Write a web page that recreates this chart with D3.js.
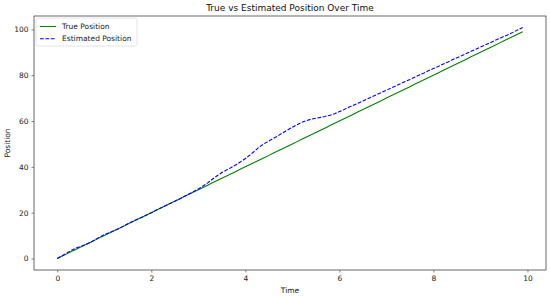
<!DOCTYPE html>
<html>
<head>
<meta charset="utf-8">
<script src="https://cdn.jsdelivr.net/npm/d3@7"></script>
<style>
  body { margin: 0; background: #fff; }
  svg { display: block; font-family: "DejaVu Sans", sans-serif; }
</style>
</head>
<body>
<div class="app"></div>
<script>
// Data
const time = [
  0.0, 0.1, 0.2, 0.3, 0.4, 0.5, 0.6, 0.7, 0.8, 0.9,
  1.0, 1.1, 1.2, 1.3, 1.4, 1.5, 1.6, 1.7, 1.8, 1.9,
  2.0, 2.1, 2.2, 2.3, 2.4, 2.5, 2.6, 2.7, 2.8, 2.9,
  3.0, 3.1, 3.2, 3.3, 3.4, 3.5, 3.6, 3.7, 3.8, 3.9,
  4.0, 4.1, 4.2, 4.3, 4.4, 4.5, 4.6, 4.7, 4.8, 4.9,
  5.0, 5.1, 5.2, 5.3, 5.4, 5.5, 5.6, 5.7, 5.8, 5.9,
  6.0, 6.1, 6.2, 6.3, 6.4, 6.5, 6.6, 6.7, 6.8, 6.9,
  7.0, 7.1, 7.2, 7.3, 7.4, 7.5, 7.6, 7.7, 7.8, 7.9,
  8.0, 8.1, 8.2, 8.3, 8.4, 8.5, 8.6, 8.7, 8.8, 8.9,
  9.0, 9.1, 9.2, 9.3, 9.4, 9.5, 9.6, 9.7, 9.8, 9.9
];
const truePosition = [
  0, 1, 2, 3, 4, 5, 6, 7, 8, 9,
  10, 11, 12, 13, 14, 15, 16, 17, 18, 19,
  20, 21, 22, 23, 24, 25, 26, 27, 28, 29,
  30, 31, 32, 33, 34, 35, 36, 37, 38, 39,
  40, 41, 42, 43, 44, 45, 46, 47, 48, 49,
  50, 51, 52, 53, 54, 55, 56, 57, 58, 59,
  60, 61, 62, 63, 64, 65, 66, 67, 68, 69,
  70, 71, 72, 73, 74, 75, 76, 77, 78, 79,
  80, 81, 82, 83, 84, 85, 86, 87, 88, 89,
  90, 91, 92, 93, 94, 95, 96, 97, 98, 99
];
const estimatedPosition = [
  0.0, 1.2, 2.3, 3.6, 4.5, 5.3, 6.1, 7.0, 8.1, 9.3,
  10.4, 11.2, 12.1, 13.0, 14.0, 15.1, 16.1, 17.1, 18.0, 19.0,
  20.0, 21.0, 22.0, 23.0, 24.0, 25.0, 26.0, 27.0, 28.1, 29.2,
  30.3, 31.6, 33.0, 34.6, 36.1, 37.5, 38.6, 39.7, 40.9, 42.2,
  43.6, 45.2, 46.9, 48.7, 50.1, 51.3, 52.4, 53.6, 54.9, 56.1,
  57.3, 58.4, 59.4, 60.2, 60.8, 61.2, 61.6, 62.0, 62.5, 63.2,
  64.1, 65.0, 66.0, 66.9, 67.8, 68.7, 69.7, 70.6, 71.6, 72.5,
  73.4, 74.4, 75.3, 76.3, 77.2, 78.1, 79.1, 80.1, 81.0, 82.0,
  82.9, 83.8, 84.8, 85.7, 86.7, 87.6, 88.5, 89.5, 90.4, 91.3,
  92.3, 93.2, 94.1, 95.1, 96.0, 96.9, 97.8, 98.8, 99.8, 100.8
];
const xTicks = [0, 2, 4, 6, 8, 10];
const yTicks = [0, 20, 40, 60, 80, 100];


// Setup
const width = 550;
const height = 296;
const margin = { top: 16, right: 4, bottom: 26, left: 34 };
const plotW = width - margin.left - margin.right;
const plotH = height - margin.top - margin.bottom;

const svg = d3.select('.app')
  .append('svg')
  .attr('width', width)
  .attr('height', height)
  .attr('viewBox', [0, 0, width, height]);

const g = svg.append('g')
  .attr('transform', `translate(${margin.left},${margin.top})`);

// matplotlib-style 5% padding
const xMin = d3.min(time), xMax = d3.max(time);
const xPad = (xMax - xMin) * 0.05;
const allY = truePosition.concat(estimatedPosition);
const yMin = d3.min(allY), yMax = d3.max(allY);
const yPad = (yMax - yMin) * 0.05;

const x = d3.scaleLinear().domain([xMin - xPad, xMax + xPad]).range([0, plotW]);
const y = d3.scaleLinear().domain([yMin - yPad, yMax + yPad]).range([plotH, 0]);

// Axes
const xAxis = g.append('g')
  .attr('transform', `translate(0,${plotH})`)
  .call(d3.axisBottom(x).tickValues(xTicks).tickFormat(d3.format('d')).tickSize(2.5).tickPadding(3));
const yAxis = g.append('g')
  .call(d3.axisLeft(y).tickValues(yTicks).tickFormat(d3.format('d')).tickSize(2.5).tickPadding(3));

[xAxis, yAxis].forEach(a => {
  a.select('.domain').remove();
  a.selectAll('line').attr('stroke', '#333').attr('stroke-width', 0.6);
  a.selectAll('text').attr('fill', '#222').attr('font-size', 7.5).attr('font-family', 'DejaVu Sans');
});

// Lines
const lineTrue = d3.line().x((d, i) => x(time[i])).y(d => y(d));
g.append('path')
  .datum(truePosition)
  .attr('fill', 'none')
  .attr('stroke', '#008000')
  .attr('stroke-width', 1.1)
  .attr('d', lineTrue);

g.append('path')
  .datum(estimatedPosition)
  .attr('fill', 'none')
  .attr('stroke', '#0000ff')
  .attr('stroke-width', 1.1)
  .attr('stroke-dasharray', '3.8,1.6')
  .attr('d', lineTrue);

// Frame
g.append('rect')
  .attr('width', plotW)
  .attr('height', plotH)
  .attr('fill', 'none')
  .attr('stroke', '#444')
  .attr('stroke-width', 0.8);

// Title and labels
svg.append('text')
  .attr('x', margin.left + plotW / 2)
  .attr('y', margin.top - 5)
  .attr('text-anchor', 'middle')
  .attr('font-size', 9)
  .attr('fill', '#111')
  .text('True vs Estimated Position Over Time');

svg.append('text')
  .attr('x', margin.left + plotW / 2)
  .attr('y', height - 3)
  .attr('text-anchor', 'middle')
  .attr('font-size', 7.5)
  .attr('fill', '#111')
  .text('Time');

svg.append('text')
  .attr('transform', `translate(10,${margin.top + plotH / 2}) rotate(-90)`)
  .attr('text-anchor', 'middle')
  .attr('font-size', 7.5)
  .attr('fill', '#111')
  .text('Position');

// Legend
const legend = g.append('g').attr('transform', 'translate(2,2)');
legend.append('rect')
  .attr('width', 101)
  .attr('height', 28)
  .attr('rx', 2)
  .attr('fill', '#fff')
  .attr('fill-opacity', 0.8)
  .attr('stroke', '#ddd')
  .attr('stroke-width', 0.8);

const legendItems = [
  { label: 'True Position', color: '#008000', dash: null },
  { label: 'Estimated Position', color: '#0000ff', dash: '3.8,1.6' }
];
legendItems.forEach((d, i) => {
  const row = legend.append('g').attr('transform', `translate(4,${8.5 + i * 12.3})`);
  row.append('line')
    .attr('x1', 0).attr('x2', 16)
    .attr('stroke', d.color)
    .attr('stroke-width', 1.1)
    .attr('stroke-dasharray', d.dash);
  row.append('text')
    .attr('x', 22)
    .attr('dy', '0.35em')
    .attr('font-size', 7.5)
    .attr('fill', '#222')
    .text(d.label);
});
</script>
</body>
</html>
